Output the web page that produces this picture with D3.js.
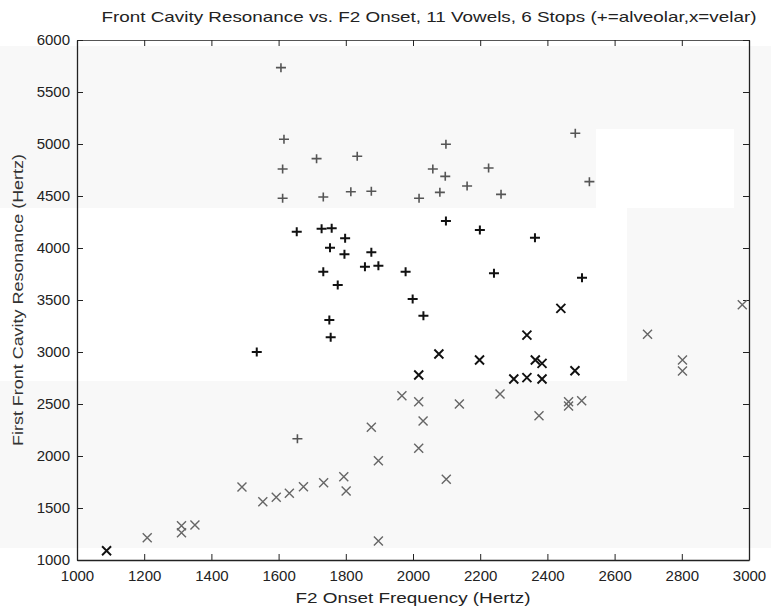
<!DOCTYPE html>
<html><head><meta charset="utf-8">
<script src="https://cdn.jsdelivr.net/npm/d3@7"></script>
<style>html,body{margin:0;padding:0;background:#fff;}svg{display:block;}</style>
</head><body>
<script>
// ---- data ----
const alveolarF2 = [1607,1616,1612,1612,1713,1733,1834,1815,1876,2018,2059,2080,2098,2096,2161,2225,2262,2483,2525,
  1654,1728,1758,1798,1753,1796,1876,1733,1857,1897,1776,1978,1999,2031,1751,1755,2098,2199,2363,2241,2503,1535,1656];
const alveolarFCR = [5734,5045,4760,4478,4859,4490,4882,4541,4545,4478,4760,4535,4997,4689,4596,4769,4516,5103,4638,
  4157,4186,4189,4093,4003,3939,3959,3772,3820,3830,3644,3772,3510,3349,3308,3141,4259,4173,4099,3757,3714,3000,2166];
const velarF2 = [1088,1209,1311,1311,1351,1491,1553,1593,1632,1674,1734,1794,1801,1876,1897,1897,1967,2017,2017,2030,2017,2099,
  2138,2259,2463,2463,2502,2375,2440,2339,2077,2198,2364,2384,2300,2339,2384,2482,2698,2802,2802,2980];
const velarFCR = [1089,1214,1330,1262,1337,1702,1561,1603,1641,1705,1743,1801,1663,2276,1955,1183,2580,2779,2522,2337,2074,1776,
  2500,2596,2522,2481,2532,2388,3420,3163,2981,2923,2923,2891,2740,2753,2740,2820,3170,2923,2817,3455];
const xTicks = [1000,1200,1400,1600,1800,2000,2200,2400,2600,2800,3000];
const yTicks = [1000,1500,2000,2500,3000,3500,4000,4500,5000,5500,6000];
const title = "Front Cavity Resonance vs. F2 Onset, 11 Vowels, 6 Stops (+=alveolar,x=velar)";
const xLabel = "F2 Onset Frequency (Hertz)";
const yLabel = "First Front Cavity Resonance (Hertz)";

// ---- layout ----
const W = 771, H = 607;
const L = 77, R = 749, T = 40, B = 560;
const svg = d3.select("body").append("svg").attr("width", W).attr("height", H)
  .style("font-family", "'Liberation Sans', Arial, sans-serif");

// scanned-paper background bands
const gray = "#f8f8f8";
const bg = svg.append("g");
bg.append("rect").attr("x",0).attr("y",46).attr("width",W).attr("height",208-46).attr("fill",gray);
bg.append("rect").attr("x",596).attr("y",129).attr("width",138).attr("height",79).attr("fill","#fff");
bg.append("rect").attr("x",627).attr("y",208).attr("width",W-627).attr("height",381-208).attr("fill",gray);
bg.append("rect").attr("x",0).attr("y",381).attr("width",W).attr("height",548-381).attr("fill",gray);
function inWhite(px, py){
  if (py < 46 || py >= 548) return true;
  if (py >= 208 && py < 381 && px < 627) return true;
  if (py >= 129 && py < 208 && px >= 596 && px < 734) return true;
  return false;
}

const x = d3.scaleLinear().domain([1000,3000]).range([L,R]);
const y = d3.scaleLinear().domain([1000,6000]).range([B,T]);

// axes
const axCol = "#222";
function styleAxis(g){
  g.select(".domain").attr("stroke", axCol).attr("stroke-width", 1.3);
  g.selectAll(".tick line").attr("stroke", axCol).attr("stroke-width", 1);
  g.selectAll(".tick text").attr("fill", "#222").style("font-size","15px");
}
svg.append("g").attr("transform",`translate(0,${B})`)
  .call(d3.axisBottom(x).tickValues(xTicks).tickSize(-6).tickSizeOuter(0).tickPadding(10).tickFormat(d3.format("d")))
  .call(styleAxis);
svg.append("g").attr("transform",`translate(0,${T})`)
  .call(d3.axisTop(x).tickValues(xTicks).tickSize(-6).tickSizeOuter(0).tickFormat(""))
  .call(styleAxis).select(".domain").attr("stroke","#555").attr("stroke-width",1);
svg.append("g").attr("transform",`translate(${L},0)`)
  .call(d3.axisLeft(y).tickValues(yTicks).tickSize(-6).tickSizeOuter(0).tickPadding(7).tickFormat(d3.format("d")))
  .call(styleAxis);
svg.append("g").attr("transform",`translate(${R},0)`)
  .call(d3.axisRight(y).tickValues(yTicks).tickSize(-6).tickSizeOuter(0).tickFormat(""))
  .call(styleAxis);

// titles
svg.append("text").attr("x", 429).attr("y", 22).attr("text-anchor","middle")
  .attr("textLength", 655).attr("lengthAdjust","spacingAndGlyphs")
  .style("font-size","15px").attr("fill","#222").text(title);
svg.append("text").attr("x", 413).attr("y", 603).attr("text-anchor","middle")
  .attr("textLength", 235).attr("lengthAdjust","spacingAndGlyphs")
  .style("font-size","15px").attr("fill","#222").text(xLabel);
svg.append("text").attr("transform","translate(23,300) rotate(-90)").attr("text-anchor","middle")
  .attr("textLength", 292).attr("lengthAdjust","spacingAndGlyphs")
  .style("font-size","15px").attr("fill","#333").text(yLabel);

// marks
const alv = alveolarF2.map((v,i)=>({f2:v, r:alveolarFCR[i]}));
const vel = velarF2.map((v,i)=>({f2:v, r:velarFCR[i]}));
const pg = svg.append("g");
pg.selectAll("path.alv").data(alv).join("path").attr("class","alv")
  .attr("transform", d=>`translate(${x(d.f2)},${y(d.r)})`)
  .attr("d","M-5,0H5M0,-4.5V4.5")
  .attr("fill","none")
  .attr("stroke", d=> inWhite(x(d.f2), y(d.r)) ? "#111" : "#555")
  .attr("stroke-width", d=> inWhite(x(d.f2), y(d.r)) ? 2 : 1.6);
pg.selectAll("path.vel").data(vel).join("path").attr("class","vel")
  .attr("transform", d=>`translate(${x(d.f2)},${y(d.r)})`)
  .attr("d","M-4.5,-4.5L4.5,4.5M-4.5,4.5L4.5,-4.5")
  .attr("fill","none")
  .attr("stroke", d=> inWhite(x(d.f2), y(d.r)) ? "#111" : "#666")
  .attr("stroke-width", d=> inWhite(x(d.f2), y(d.r)) ? 1.9 : 1.4);
</script>
</body></html>
